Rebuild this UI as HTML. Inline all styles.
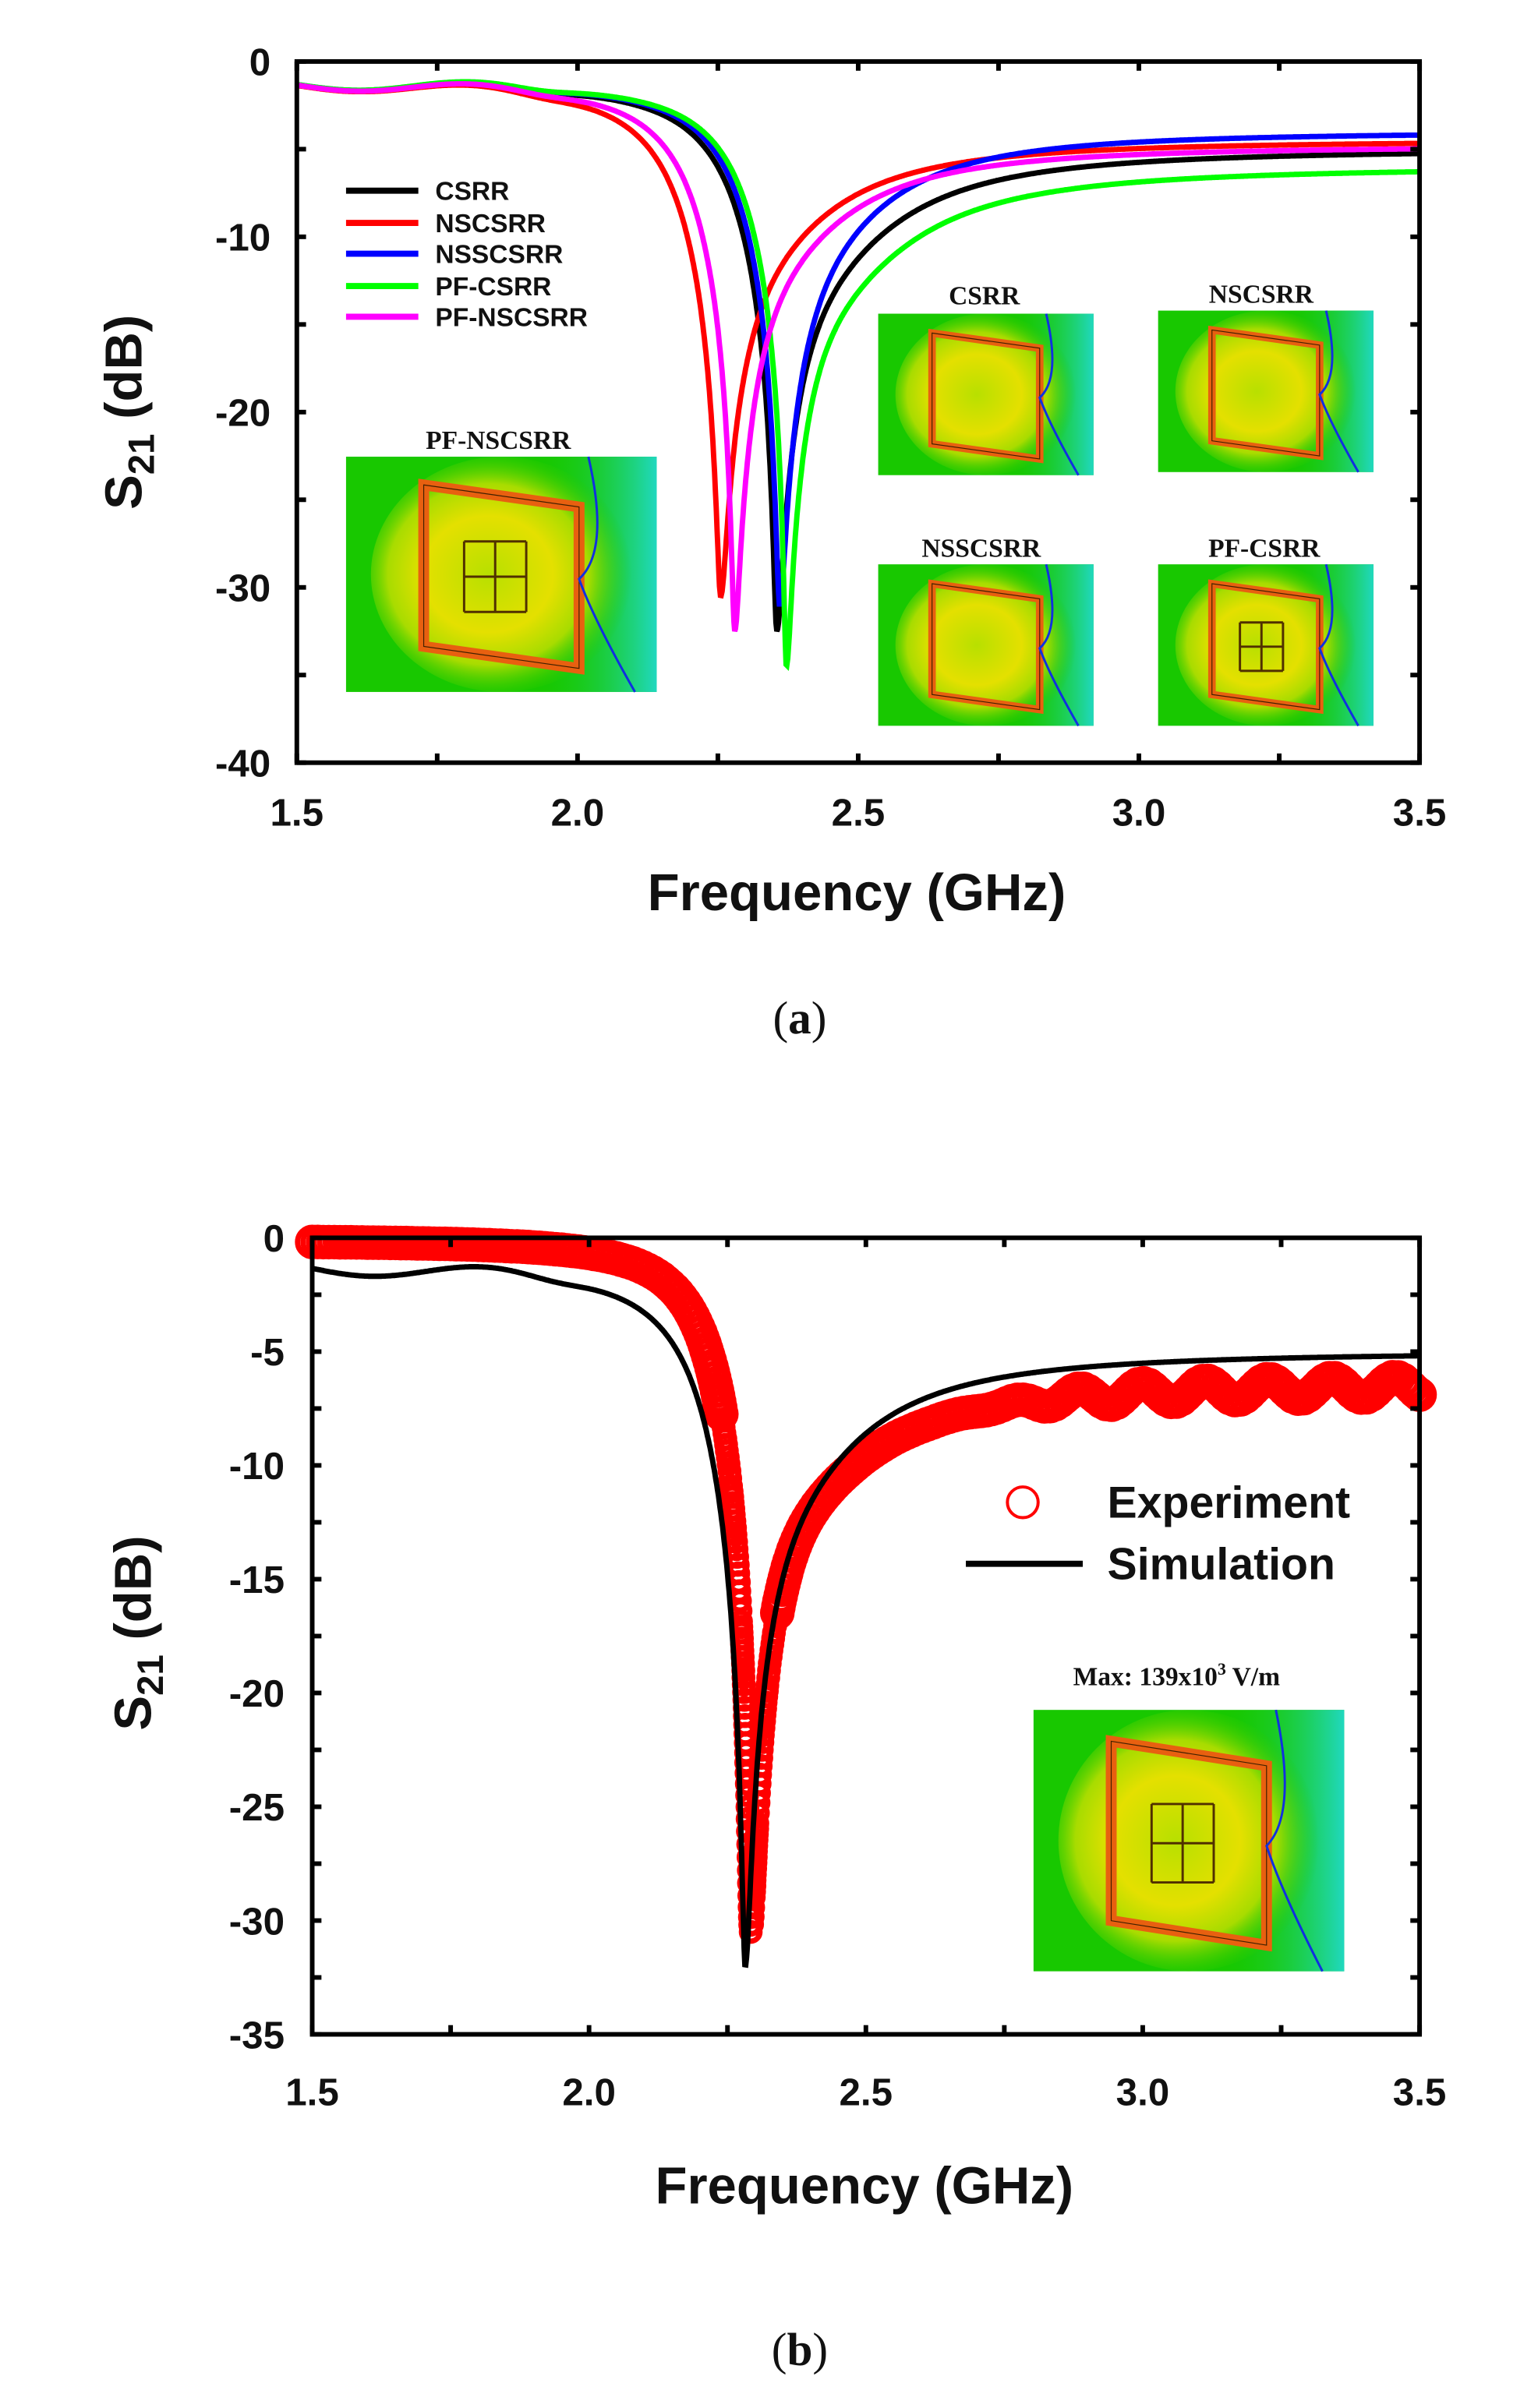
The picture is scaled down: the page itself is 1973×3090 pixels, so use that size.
<!DOCTYPE html>
<html><head><meta charset="utf-8">
<style>
html,body{margin:0;padding:0;background:#fff;}
svg{display:block;}
.tk{font-family:"Liberation Sans",sans-serif;font-weight:bold;font-size:25px;fill:#111;}
.ax{font-family:"Liberation Sans",sans-serif;font-weight:bold;font-size:34px;fill:#111;}
.lg{font-family:"Liberation Sans",sans-serif;font-weight:bold;font-size:17px;fill:#111;}
.lg2{font-family:"Liberation Sans",sans-serif;font-weight:bold;font-size:29px;fill:#111;}
.il{font-family:"Liberation Serif",serif;font-weight:bold;font-size:17px;fill:#111;}
.cap{font-family:"Liberation Serif",serif;font-size:30px;fill:#111;}
</style></head>
<body>
<svg id="s" width="1973" height="3090" viewBox="0 0 1000 1566" preserveAspectRatio="none" xmlns="http://www.w3.org/2000/svg">
<defs>
<radialGradient id="gy" cx="0.45" cy="0.5" r="0.55">
<stop offset="0" stop-color="#b8e000"/><stop offset="0.45" stop-color="#e4e000"/><stop offset="0.7" stop-color="#a8dc00"/><stop offset="1" stop-color="#18c800" stop-opacity="0"/>
</radialGradient>
<linearGradient id="gc" x1="0" y1="0" x2="1" y2="0">
<stop offset="0" stop-color="#18c800" stop-opacity="0"/><stop offset="1" stop-color="#20d8c0"/>
</linearGradient>
</defs>
<g id="g"></g>
</svg>
<script>
var g=document.getElementById('g'),h='';
function add(s){h+=s;}
var L=193,R=923,T=40,B=496;
function X1(f){return L+(f-1.5)*(R-L)/2;}
function Y1(d){return T+(-d)*(B-T)/40;}
function inset(x,y,w,hh,inner){
 var s='<g><rect x="'+x+'" y="'+y+'" width="'+w+'" height="'+hh+'" fill="#18c800"/>';
 s+='<rect x="'+(x+w*0.6)+'" y="'+y+'" width="'+(w*0.4)+'" height="'+hh+'" fill="url(#gc)"/>';
 s+='<ellipse cx="'+(x+w*0.5)+'" cy="'+(y+hh*0.5)+'" rx="'+(w*0.42)+'" ry="'+(hh*0.5)+'" fill="url(#gy)"/>';
 var sx=x+w*0.25,sy=y+hh*0.12,sw=w*0.5,sh=hh*0.78;
 var pts=sx+','+sy+' '+(sx+sw)+','+(sy+sh*0.12)+' '+(sx+sw)+','+(sy+sh)+' '+sx+','+(sy+sh*0.88);
 s+='<polygon points="'+pts+'" fill="none" stroke="#e86010" stroke-width="'+(w*0.035)+'"/>';
 s+='<polygon points="'+pts+'" fill="none" stroke="#402000" stroke-width="0.6"/>';
 s+='<path d="M'+(x+w*0.78)+','+y+' Q'+(x+w*0.85)+','+(y+hh*0.4)+' '+(sx+sw)+','+(y+hh*0.52)+' Q'+(x+w*0.8)+','+(y+hh*0.7)+' '+(x+w*0.93)+','+(y+hh)+'" fill="none" stroke="#1030e0" stroke-width="1.5"/>';
 if(inner){var ix=x+w*0.38,iy=y+hh*0.36,iw=w*0.2,ih=hh*0.3;
  s+='<path d="M'+ix+','+iy+' h'+iw+' M'+(ix+iw*0.5)+','+iy+' v'+ih+' M'+ix+','+(iy+ih*0.5)+' h'+iw+' M'+ix+','+iy+' v'+ih+' M'+(ix+iw)+','+iy+' v'+ih+' M'+ix+','+(iy+ih)+' h'+iw+'" stroke="#503000" stroke-width="1.5" fill="none"/>';}
 return s+'</g>';
}
add(inset(225,297,202,153,true));add('<text class="il" x="324" y="292" text-anchor="middle">PF-NSCSRR</text>');
add(inset(571,204,140,105,false));add('<text class="il" x="640" y="198" text-anchor="middle">CSRR</text>');
add(inset(753,202,140,105,false));add('<text class="il" x="820" y="197" text-anchor="middle">NSCSRR</text>');
add(inset(571,367,140,105,false));add('<text class="il" x="638" y="362" text-anchor="middle">NSSCSRR</text>');
add(inset(753,367,140,105,true));add('<text class="il" x="822" y="362" text-anchor="middle">PF-CSRR</text>');
function model(f,f0,depth,Ql,Qr,lo,hi){
 var c=0.06,w=0.045;
 var sig=1/(1+Math.exp(-(f-f0-c)/w));
 var base=lo+(hi-lo)*sig;
 var b0=lo+(hi-lo)/(1+Math.exp(c/w));
 var rd=depth-b0; var a=Math.pow(10,rd/20);
 var Q=f<f0?Ql:Qr; var x=2*Q*(f-f0)/f0;
 return base+10*Math.log10((a*a+x*x)/(1+x*x));
}
function ripple(f){return -0.3*Math.sin((f-1.5)*15)/(1+Math.exp((f-1.95)/0.03));}
var series=[
 ['#000',2.355,-32.5,8,4.2,-5],
 ['#ff0000',2.255,-30.5,7.6,4.5,-4.5],
 ['#0000ff',2.36,-31,8.5,4.8,-4],
 ['#00ff00',2.372,-34.5,8.5,4,-6],
 ['#ff00ff',2.28,-32.5,8,4.5,-4.8]];
series.forEach(function(s){
 var p='';for(var f=1.5;f<=3.5001;f+=0.0015){var d=model(f,s[1],s[2],s[3],s[4],-1.2,s[5])+ripple(f);
 p+=(p?'L':'M')+X1(f).toFixed(1)+','+Y1(d).toFixed(1);}
 add('<path d="'+p+'" fill="none" stroke="'+s[0]+'" stroke-width="3.5"/>');
});
var ln=['CSRR','NSCSRR','NSSCSRR','PF-CSRR','PF-NSCSRR'],lc=['#000','#ff0000','#0000ff','#00ff00','#ff00ff'],ly=[124,145,165,186,206];
for(var i=0;i<5;i++){add('<line x1="225" x2="272" y1="'+ly[i]+'" y2="'+ly[i]+'" stroke="'+lc[i]+'" stroke-width="4"/><text class="lg" x="283" y="'+(ly[i]+6)+'">'+ln[i]+'</text>');}
add('<rect x="'+L+'" y="'+T+'" width="'+(R-L)+'" height="'+(B-T)+'" fill="none" stroke="#000" stroke-width="3"/>');
for(var i=0;i<=8;i++){var yy=T+i*(B-T)/8;add('<line x1="'+L+'" x2="'+(L+6)+'" y1="'+yy+'" y2="'+yy+'" stroke="#000" stroke-width="3"/><line x1="'+R+'" x2="'+(R-6)+'" y1="'+yy+'" y2="'+yy+'" stroke="#000" stroke-width="3"/>');}
for(var i=0;i<=8;i++){var xx=L+i*(R-L)/8;add('<line y1="'+B+'" y2="'+(B-6)+'" x1="'+xx+'" x2="'+xx+'" stroke="#000" stroke-width="3"/><line y1="'+T+'" y2="'+(T+6)+'" x1="'+xx+'" x2="'+xx+'" stroke="#000" stroke-width="3"/>');}
['0','-10','-20','-30','-40'].forEach(function(t,i){add('<text class="tk" x="176" y="'+(T+i*114+9)+'" text-anchor="end">'+t+'</text>');});
['1.5','2.0','2.5','3.0','3.5'].forEach(function(t,i){add('<text class="tk" x="'+(L+i*(R-L)/4)+'" y="537" text-anchor="middle">'+t+'</text>');});
add('<text class="ax" x="557" y="592" text-anchor="middle">Frequency (GHz)</text>');
add('<text class="ax" transform="translate(92,268) rotate(-90)" text-anchor="middle">S<tspan font-size="24" dy="8">21</tspan><tspan dy="-8"> (dB)</tspan></text>');
add('<text class="cap" x="520" y="672" text-anchor="middle">(<tspan font-weight="bold">a</tspan>)</text>');
var L2=203,R2=923,T2=805,B2=1323;
function X2(f){return L2+(f-1.5)*(R2-L2)/2;}
function Y2(d){return T2+(-d)*(B2-T2)/35;}
add(inset(672,1112,202,170,true));
add('<text class="il" x="765" y="1096" text-anchor="middle">Max: 139x10<tspan font-size="11" dy="-7">3</tspan><tspan dy="7"> V/m</tspan></text>');
function expd(f){var d=model(f,2.292,-30.5,10.5,5,-0.1,-6.4);var win=1/(1+Math.exp(-(f-2.8)/0.05));d+=0.45*Math.sin(f*55)*win;if(d>-0.1)d=-0.1;return d;}
var c='',px=-99,py=-99;
for(var f=1.5;f<=3.5001;f+=0.0005){
 var x=X2(f),y=Y2(expd(f));
 if(Math.hypot(x-px,y-py)>=3.5||f>3.499){
  var r=(f>2.24&&f<2.34)?6:9.5;
  c+='<circle cx="'+x.toFixed(1)+'" cy="'+y.toFixed(1)+'" r="'+r+'"/>';px=x;py=y;}
}
add('<g fill="none" stroke="#ff0000" stroke-width="3.5">'+c+'</g>');
var p='';for(var f=1.5;f<=3.5001;f+=0.0015){var d=model(f,2.282,-32,8,4.5,-1.2,-5)+ripple(f);p+=(p?'L':'M')+X2(f).toFixed(1)+','+Y2(d).toFixed(1);}
add('<path d="'+p+'" fill="none" stroke="#000" stroke-width="3.5"/>');
add('<circle cx="665" cy="977" r="10" fill="none" stroke="#ff0000" stroke-width="2"/><text class="lg2" x="720" y="987">Experiment</text>');
add('<line x1="628" x2="704" y1="1017" y2="1017" stroke="#000" stroke-width="4"/><text class="lg2" x="720" y="1027">Simulation</text>');
add('<rect x="'+L2+'" y="'+T2+'" width="'+(R2-L2)+'" height="'+(B2-T2)+'" fill="none" stroke="#000" stroke-width="3"/>');
for(var i=0;i<=14;i++){var yy=T2+i*(B2-T2)/14;add('<line x1="'+L2+'" x2="'+(L2+6)+'" y1="'+yy+'" y2="'+yy+'" stroke="#000" stroke-width="3"/><line x1="'+R2+'" x2="'+(R2-6)+'" y1="'+yy+'" y2="'+yy+'" stroke="#000" stroke-width="3"/>');}
for(var i=0;i<=8;i++){var xx=L2+i*(R2-L2)/8;add('<line y1="'+B2+'" y2="'+(B2-6)+'" x1="'+xx+'" x2="'+xx+'" stroke="#000" stroke-width="3"/><line y1="'+T2+'" y2="'+(T2+6)+'" x1="'+xx+'" x2="'+xx+'" stroke="#000" stroke-width="3"/>');}
['0','-5','-10','-15','-20','-25','-30','-35'].forEach(function(t,i){add('<text class="tk" x="185" y="'+(T2+i*(B2-T2)/7+9)+'" text-anchor="end">'+t+'</text>');});
['1.5','2.0','2.5','3.0','3.5'].forEach(function(t,i){add('<text class="tk" x="'+(L2+i*(R2-L2)/4)+'" y="1369" text-anchor="middle">'+t+'</text>');});
add('<text class="ax" x="562" y="1433" text-anchor="middle">Frequency (GHz)</text>');
add('<text class="ax" transform="translate(98,1062) rotate(-90)" text-anchor="middle">S<tspan font-size="24" dy="8">21</tspan><tspan dy="-8"> (dB)</tspan></text>');
add('<text class="cap" x="520" y="1538" text-anchor="middle">(<tspan font-weight="bold">b</tspan>)</text>');
g.innerHTML=h;
</script>
</body></html>
